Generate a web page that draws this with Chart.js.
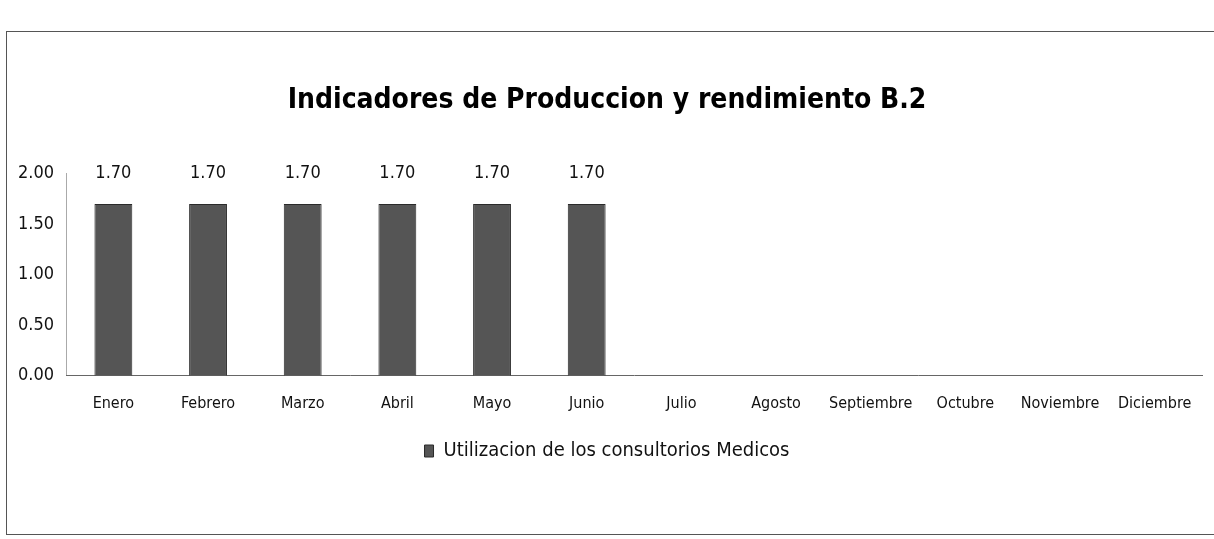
<!DOCTYPE html>
<html>
<head>
<meta charset="utf-8">
<script src="https://cdn.jsdelivr.net/npm/chart.js@4.4.0/dist/chart.umd.min.js"></script>
<style>
  body { margin: 0; background: #fff; }
  #wrap { position: absolute; left: 0; top: 0; width: 1214px; height: 539px; }
  #frame { position: absolute; left: 6px; top: 31px; width: 1214px; height: 502px; border: 1px solid #555; border-right: none; }
</style>
</head>
<body>
<div id="wrap">
  <div id="frame"></div>
  <canvas id="myChart" width="1214" height="539"></canvas>
</div>
<script>
// data
const months = ["Enero", "Febrero", "Marzo", "Abril", "Mayo", "Junio", "Julio", "Agosto", "Septiembre", "Octubre", "Noviembre", "Diciembre"];
const utilizacion = [1.70, 1.70, 1.70, 1.70, 1.70, 1.70, null, null, null, null, null, null];
const yTicks = [0, 0.5, 1.0, 1.5, 2.0];

const fontFam = '"DejaVu Sans Condensed", "Liberation Sans Narrow", sans-serif';

// simple value labels above the bars
const barLabels = {
    id: 'barLabels',
    afterDatasetsDraw(chart) {
        const c = chart.ctx;
        const meta = chart.getDatasetMeta(0);
        c.save();
        c.font = '18px ' + fontFam;
        c.fillStyle = '#111';
        c.textAlign = 'center';
        c.textBaseline = 'bottom';
        meta.data.forEach((bar, i) => {
            const v = utilizacion[i];
            if (v === null) return;
            c.fillText(v.toFixed(2), bar.x, bar.y - 22);
        });
        c.restore();
    }
};

const ctx = document.getElementById('myChart');
const chart = new Chart(ctx, {
    type: 'bar',
    data: {
        labels: months,
        datasets: [{
            label: 'Utilizacion de los consultorios Medicos',
            data: utilizacion,
            backgroundColor: '#555555',
            borderColor: '#2a2a2a',
            borderWidth: 1,
            categoryPercentage: 1.0,
            barPercentage: 0.4
        }]
    },
    options: {
        responsive: false,
        animation: false,
        layout: { padding: { left: 12, right: 12, top: 84, bottom: 68 } },
        scales: {
            y: {
                min: 0,
                max: 2,
                afterBuildTicks: axis => { axis.ticks = yTicks.map(v => ({ value: v })); },
                grid: { display: false, drawTicks: true, tickLength: 6 },
                border: { display: true, color: '#aaa', dash: [2, 3] },
                ticks: {
                    color: '#111',
                    padding: 6,
                    font: { family: fontFam, size: 18 },
                    callback: v => Number(v).toFixed(2)
                }
            },
            x: {
                grid: { display: false, drawTicks: true, tickLength: 6 },
                border: { display: true, color: '#666' },
                ticks: {
                    color: '#111',
                    maxRotation: 0,
                    autoSkip: false,
                    padding: 12,
                    font: { family: fontFam, size: 16 }
                }
            }
        },
        plugins: {
            title: {
                display: true,
                text: 'Indicadores de Produccion y rendimiento B.2',
                color: '#000',
                font: { family: fontFam, size: 28, weight: 'bold' },
                padding: { top: 0, bottom: 56 }
            },
            legend: {
                position: 'bottom',
                labels: {
                    color: '#111',
                    boxWidth: 9,
                    boxHeight: 12,
                    padding: 16,
                    font: { family: fontFam, size: 20 }
                }
            },
            tooltip: { enabled: false }
        }
    },
    plugins: [barLabels]
});
</script>
</body>
</html>
